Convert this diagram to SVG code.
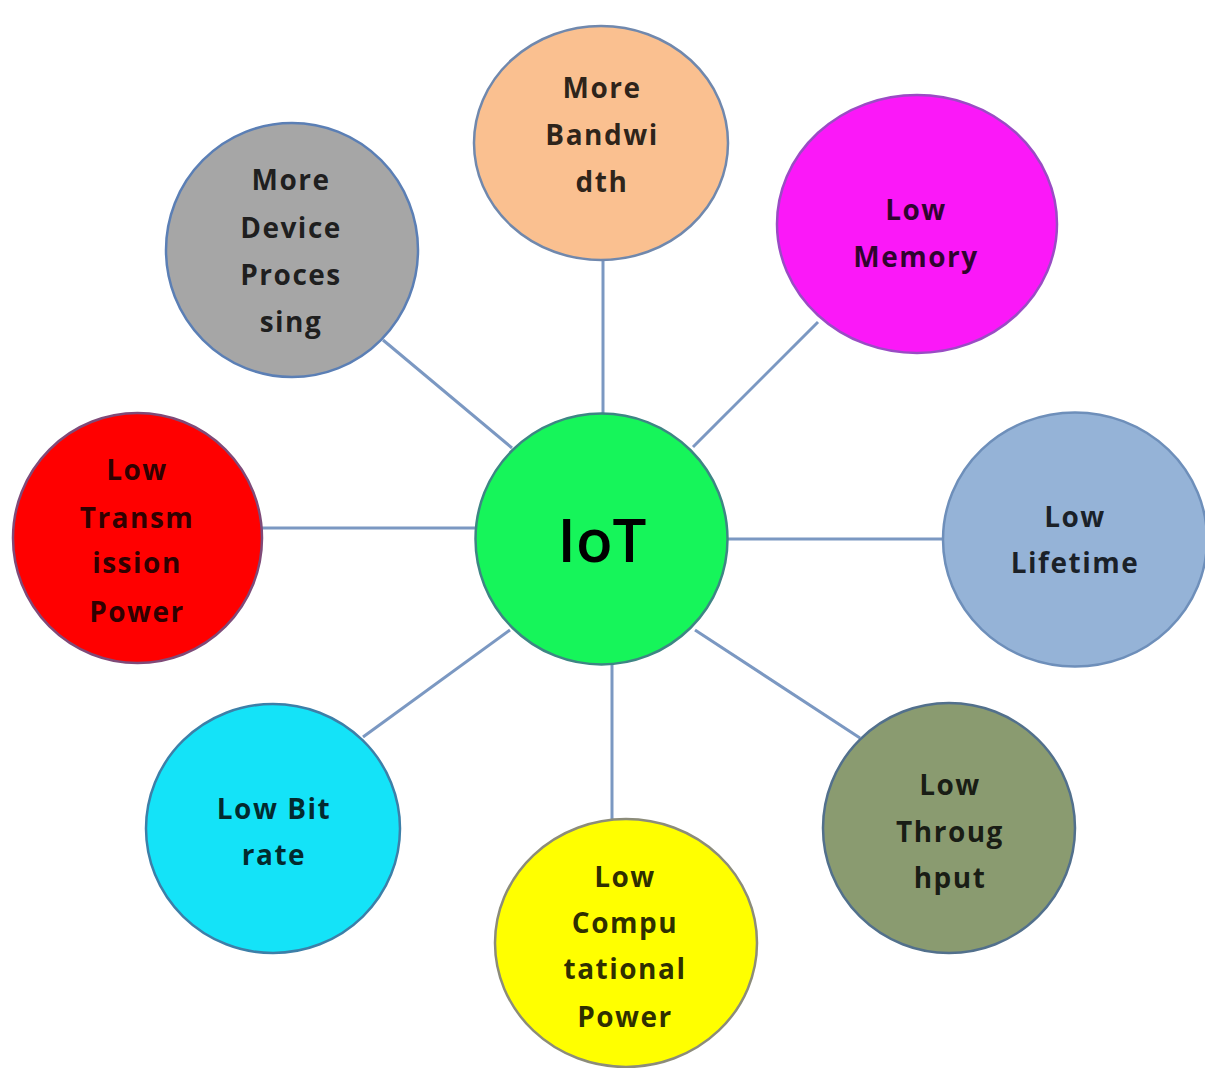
<svg xmlns="http://www.w3.org/2000/svg" width="1205" height="1068" viewBox="0 0 1205 1068">
<style>
.bg{fill:#ffffff}
.conn line{stroke:#7b98c2;stroke-width:3;fill:none}
.node ellipse{stroke-width:2.5}
.lbl{font-family:"Open Sans","DejaVu Sans",sans-serif;font-weight:700;font-size:28px;letter-spacing:1.5px;text-anchor:middle;fill:#000;fill-opacity:0.82}
.hub{font-family:"Open Sans","DejaVu Sans",sans-serif;font-weight:600;font-size:60px;text-anchor:middle;fill:#000}
</style>
<rect class="bg" x="0" y="0" width="1205" height="1068"/>
<g id="connectors" class="conn">
<line x1="603" y1="258" x2="603" y2="414"/>
<line x1="383" y1="340" x2="512" y2="448"/>
<line x1="818" y1="322" x2="693" y2="447"/>
<line x1="262" y1="528" x2="476" y2="528"/>
<line x1="727" y1="539" x2="944" y2="539"/>
<line x1="510" y1="630" x2="363" y2="737"/>
<line x1="612" y1="664" x2="612" y2="821"/>
<line x1="695" y1="630" x2="860" y2="738"/>
</g>
<g id="node-iot" class="node">
<ellipse cx="601.5" cy="539" rx="126" ry="125.5" fill="#16f55a" stroke="#3e8584"/>
<text class="hub" x="602" y="562">IoT</text>
</g>
<g id="node-bandwidth" class="node">
<ellipse cx="601" cy="143" rx="127" ry="117" fill="#fac090" stroke="#7088ad"/>
<text class="lbl" x="602" y="98">More</text>
<text class="lbl" x="602" y="145">Bandwi</text>
<text class="lbl" x="602" y="192">dth</text>
</g>
<g id="node-memory" class="node">
<ellipse cx="917" cy="224" rx="140" ry="129" fill="#fb18f8" stroke="#9a4cc4"/>
<text class="lbl" x="916" y="220">Low</text>
<text class="lbl" x="916" y="267">Memory</text>
</g>
<g id="node-device" class="node">
<ellipse cx="292" cy="250" rx="126" ry="127" fill="#a6a6a6" stroke="#5b7fb5"/>
<text class="lbl" x="291" y="190">More</text>
<text class="lbl" x="291" y="238">Device</text>
<text class="lbl" x="291" y="285">Proces</text>
<text class="lbl" x="291" y="332">sing</text>
</g>
<g id="node-transmission" class="node">
<ellipse cx="137.5" cy="538" rx="124.5" ry="125" fill="#ff0000" stroke="#7f4a78"/>
<text class="lbl" x="137" y="480">Low</text>
<text class="lbl" x="137" y="528">Transm</text>
<text class="lbl" x="137" y="573">ission</text>
<text class="lbl" x="137" y="622">Power</text>
</g>
<g id="node-lifetime" class="node">
<ellipse cx="1075" cy="539.5" rx="132" ry="127" fill="#95b3d7" stroke="#6e8fba"/>
<text class="lbl" x="1075" y="527">Low</text>
<text class="lbl" x="1075" y="573">Lifetime</text>
</g>
<g id="node-bitrate" class="node">
<ellipse cx="273" cy="828.5" rx="127" ry="124.5" fill="#14e3f8" stroke="#3d7fa8"/>
<text class="lbl" x="274" y="819">Low Bit</text>
<text class="lbl" x="274" y="865">rate</text>
</g>
<g id="node-computational" class="node">
<ellipse cx="626" cy="943" rx="131" ry="124" fill="#ffff00" stroke="#8c8c7a"/>
<text class="lbl" x="625" y="887">Low</text>
<text class="lbl" x="625" y="933">Compu</text>
<text class="lbl" x="625" y="979">tational</text>
<text class="lbl" x="625" y="1027">Power</text>
</g>
<g id="node-throughput" class="node">
<ellipse cx="949" cy="828" rx="126" ry="125" fill="#8a9b70" stroke="#52708c"/>
<text class="lbl" x="950" y="795">Low</text>
<text class="lbl" x="950" y="842">Throug</text>
<text class="lbl" x="950" y="888">hput</text>
</g>
</svg>
